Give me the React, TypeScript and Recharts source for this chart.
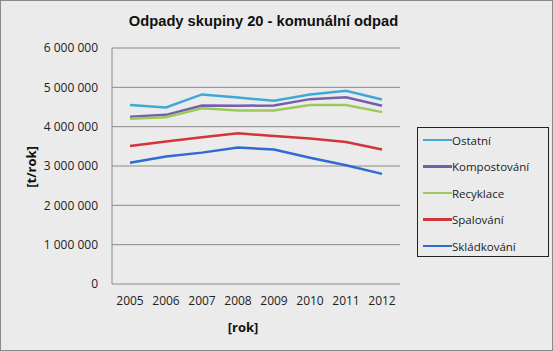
import { LineChart, Line, XAxis, YAxis, CartesianGrid } from 'recharts';

const years = ['2005', '2006', '2007', '2008', '2009', '2010', '2011', '2012'];

const ostatni = [4550000, 4490000, 4820000, 4740000, 4660000, 4820000, 4910000, 4690000];
const kompostovani = [4250000, 4300000, 4540000, 4530000, 4540000, 4700000, 4750000, 4530000];
const recyklace = [4200000, 4240000, 4470000, 4410000, 4410000, 4550000, 4550000, 4370000];
const spalovani = [3510000, 3620000, 3730000, 3830000, 3760000, 3700000, 3610000, 3420000];
const skladkovani = [3080000, 3240000, 3340000, 3470000, 3420000, 3210000, 3020000, 2800000];

const yTicks = [0, 1000000, 2000000, 3000000, 4000000, 5000000, 6000000];

const series = [
  { key: 'ostatni', name: 'Ostatní', color: '#3fa9d5', values: ostatni },
  { key: 'kompostovani', name: 'Kompostování', color: '#7460a8', values: kompostovani },
  { key: 'recyklace', name: 'Recyklace', color: '#9cc95a', values: recyklace },
  { key: 'spalovani', name: 'Spalování', color: '#d1353a', values: spalovani },
  { key: 'skladkovani', name: 'Skládkování', color: '#2f6bd3', values: skladkovani },
];

const data = years.map((year, i) => {
  const row: Record<string, string | number> = { year };
  series.forEach((s) => {
    row[s.key] = s.values[i];
  });
  return row;
});

const fmt = (v: number) => v.toLocaleString('en-US').replace(/,/g, '\u00a0');

const font = '"Open Sans", sans-serif';

function LegendBox() {
  return (
    <div
      style={{
        position: 'absolute',
        left: 416,
        top: 126,
        border: '1px solid #222',
        width: 132,
        height: 130,
        boxSizing: 'border-box',
        fontFamily: font,
        fontSize: 11.5,
        color: '#222',
      }}
    >
      {series.map((s, i) => (
        <div
          key={s.key}
          style={{
            position: 'absolute',
            left: 5,
            top: 3 + i * 26.5,
            height: 18,
            display: 'flex',
            alignItems: 'center',
            whiteSpace: 'nowrap',
          }}
        >
          <div style={{ width: 29, height: 2.5, background: s.color }} />
          <span>{s.name}</span>
        </div>
      ))}
    </div>
  );
}

export default function App() {
  return (
    <div
      style={{
        position: 'absolute',
        left: 0,
        top: 0,
        width: 553,
        height: 351,
        background: '#ebebeb',
        border: '1px solid #8a8a8a',
        boxSizing: 'border-box',
      }}
    >
      <div
        style={{
          position: 'absolute',
          left: 0,
          width: 525,
          top: 12,
          textAlign: 'center',
          fontFamily: '"Liberation Sans", Arial, sans-serif',
          fontWeight: 'bold',
          fontSize: 14.7,
          color: '#111',
        }}
      >
        Odpady skupiny 20 - komunální odpad
      </div>
      <div
        style={{
          position: 'absolute',
          left: 30,
          top: 166,
          transform: 'translate(-50%, -50%) rotate(-90deg)',
          fontFamily: font,
          fontWeight: 'bold',
          fontSize: 13,
          color: '#111',
          whiteSpace: 'nowrap',
        }}
      >
        [t/rok]
      </div>
      <div
        style={{
          position: 'absolute',
          left: 242,
          top: 326,
          transform: 'translate(-50%, -50%)',
          fontFamily: font,
          fontWeight: 'bold',
          fontSize: 13,
          color: '#111',
        }}
      >
        [rok]
      </div>
      <div style={{ position: 'absolute', left: -1, top: -1 }}>
        <LineChart
          width={553}
          height={351}
          data={data}
          margin={{ top: 48, right: 153, bottom: 0, left: 0 }}
        >
          <CartesianGrid vertical={false} stroke="#8a8a8a" strokeWidth={1} />
          <XAxis
            dataKey="year"
            height={67}
            axisLine={false}
            tickLine={false}
            tickSize={0}
            tickMargin={12}
            interval={0}
            padding={{ left: 18, right: 18 }}
            tick={{ fontFamily: font, fontSize: 12, fill: '#222' }}
          />
          <YAxis
            width={112}
            domain={[0, 6000000]}
            ticks={yTicks}
            tickFormatter={fmt}
            axisLine={{ stroke: '#8a8a8a' }}
            tickLine={false}
            tickSize={0}
            tickMargin={14}
            tick={{ fontFamily: font, fontSize: 12, fill: '#222' }}
          />
          {series.map((s) => (
            <Line
              key={s.key}
              dataKey={s.key}
              name={s.name}
              stroke={s.color}
              strokeWidth={2.5}
              dot={false}
              isAnimationActive={false}
            />
          ))}
        </LineChart>
      </div>
      <LegendBox />
    </div>
  );
}
